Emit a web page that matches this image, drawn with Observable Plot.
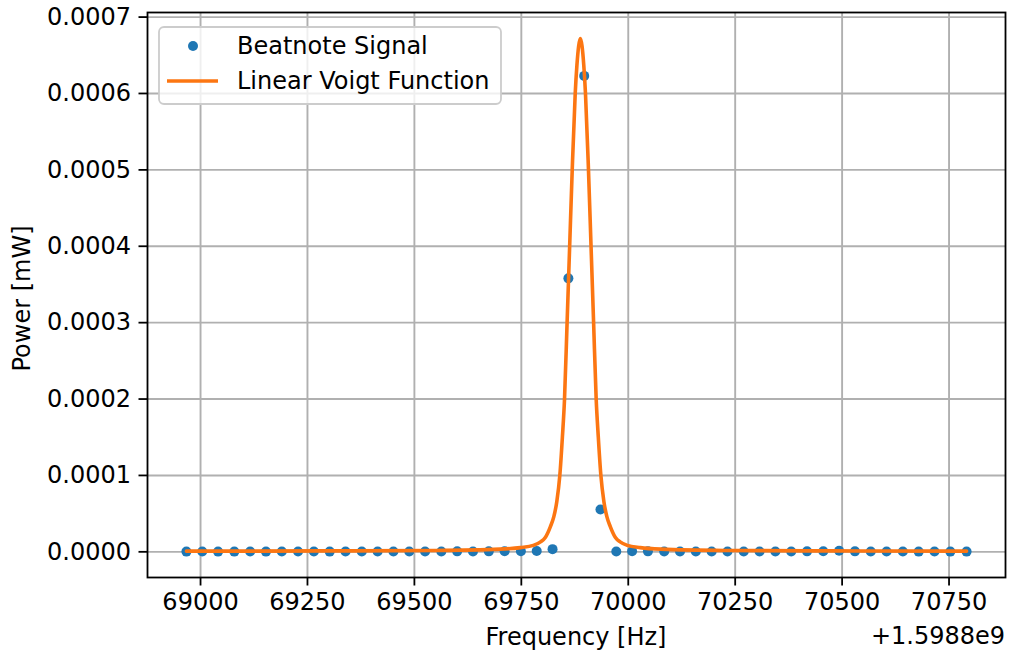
<!DOCTYPE html>
<html>
<head>
<meta charset="utf-8">
<script src="https://cdn.jsdelivr.net/npm/d3@7"></script>
<script src="https://cdn.jsdelivr.net/npm/@observablehq/plot@0.6"></script>
<style>
  html, body { margin: 0; padding: 0; background: #fff; }
  #chart svg { display: block; }
</style>
</head>
<body>
<div id="chart"></div>
<script>
// Frequency offsets in Hz above 1.5988e9
const OFFSET_LABEL = "+1.5988e9";

// Measured beatnote signal (frequency offset [Hz], power [mW])
const signalFreq = [
  68967, 69004, 69041, 69079, 69116, 69153, 69190, 69228, 69265, 69302,
  69339, 69377, 69414, 69451, 69488, 69525, 69563, 69600, 69637, 69674,
  69711, 69749, 69786, 69823, 69860, 69897, 69935, 69972, 70009, 70046,
  70084, 70121, 70158, 70195, 70232, 70270, 70307, 70344, 70381, 70418,
  70456, 70493, 70530, 70567, 70604, 70642, 70679, 70716, 70753, 70791
];
const signalPower = [
  0.0000003, 0.0000004, 0.0000003, 0.0000003, 0.0000004, 0.0000003, 0.0000004, 0.0000005, 0.0000004, 0.0000003,
  0.0000004, 0.0000005, 0.0000004, 0.0000004, 0.0000005, 0.0000004, 0.0000005, 0.0000006, 0.0000005, 0.0000006,
  0.0000007, 0.0000008, 0.0000010, 0.0000035, 0.000358, 0.000623, 0.0000555, 0.0000005, 0.0000008, 0.0000006,
  0.0000005, 0.0000004, 0.0000005, 0.0000004, 0.0000004, 0.0000005, 0.0000004, 0.0000004, 0.0000005, 0.0000006,
  0.0000008, 0.0000015, 0.0000006, 0.0000005, 0.0000004, 0.0000004, 0.0000003, 0.0000004, 0.0000003, 0.0000003
];

// Fitted linear Voigt curve
const fitFreq = [
  68967, 69300, 69550, 69700, 69748, 69778, 69795, 69806, 69818, 69826,
  69833, 69840, 69846, 69851, 69857, 69863, 69869, 69876, 69880, 69884,
  69888,
  69892, 69896, 69900, 69907, 69913, 69919, 69925, 69930, 69936, 69943,
  69950, 69958, 69970, 69981, 69998, 70028, 70076, 70226, 70476, 70791
];
const fitPower = [
  0.0000009, 0.0000012, 0.0000018, 0.0000035, 0.0000055, 0.0000085, 0.000013, 0.0000187, 0.000033, 0.000046,
  0.000066, 0.0001, 0.00015, 0.0002, 0.0003, 0.0004, 0.0005, 0.0006, 0.000637, 0.000662,
  0.000672,
  0.000662, 0.000637, 0.0006, 0.0005, 0.0004, 0.0003, 0.0002, 0.00015, 0.0001, 0.000066,
  0.000046, 0.000033, 0.0000187, 0.000013, 0.0000085, 0.0000055, 0.0000035, 0.0000018, 0.0000012, 0.0000009
];

const xTicks = [69000, 69250, 69500, 69750, 70000, 70250, 70500, 70750];
const yTicks = [0, 0.0001, 0.0002, 0.0003, 0.0004, 0.0005, 0.0006, 0.0007];

const seriesNames = ["Beatnote Signal", "Linear Voigt Function"];
const xLabel = "Frequency [Hz]";
const yLabel = "Power [mW]";

const signal = signalFreq.map((f, i) => ({f, p: signalPower[i]}));
const fit = fitFreq.map((f, i) => ({f, p: fitPower[i]}));

const W = 1011, H = 654;
const mL = 147, mR = 6, mT = 12, mB = 77;
const FONT = "DejaVu Sans, Liberation Sans, sans-serif";
const FS = 24;
const BLUE = "#1f77b4", ORANGE = "#fc7612", GRID = "#b0b0b0";

const chart = Plot.plot({
  width: W,
  height: H,
  marginLeft: mL,
  marginRight: mR,
  marginTop: mT,
  marginBottom: mB,
  style: {fontFamily: FONT, fontSize: FS + "px", color: "#000", background: "#fff"},
  x: {domain: [68876, 70882]},
  y: {domain: [-0.0000336, 0.000706]},
  marks: [
    Plot.gridX(xTicks, {stroke: GRID, strokeOpacity: 1, strokeWidth: 1.9}),
    Plot.gridY(yTicks, {stroke: GRID, strokeOpacity: 1, strokeWidth: 1.9}),
    Plot.dot(signal, {x: "f", y: "p", r: 5, fill: BLUE, stroke: "none"}),
    Plot.line(fit, {x: "f", y: "p", stroke: ORANGE, strokeWidth: 3.6, curve: "monotone-x"}),
    Plot.axisX(xTicks, {tickFormat: d3.format("d"), tickSize: 8.5, tickPadding: 7, strokeWidth: 1.8, label: null, fontSize: FS}),
    Plot.axisY(yTicks, {tickFormat: d3.format(".4f"), tickSize: 8.5, tickPadding: 8, strokeWidth: 1.8, label: null, fontSize: FS}),
    Plot.frame({stroke: "#000", strokeWidth: 1.8})
  ]
});

document.getElementById("chart").appendChild(chart);

const svg = d3.select(chart);

function addText(x, y, str, anchor, transform) {
  const t = svg.append("text")
    .attr("text-anchor", anchor).attr("dominant-baseline", "central")
    .attr("font-family", FONT).attr("font-size", FS).attr("fill", "#000")
    .style("text-anchor", anchor)
    .text(str);
  if (transform) t.attr("transform", transform);
  else t.attr("x", x).attr("y", y);
  return t;
}

// axis titles
addText((mL + W - mR) / 2, 637, xLabel, "middle");
addText(W - mR, 636, OFFSET_LABEL, "end");
addText(0, 0, yLabel, "middle", `translate(22, ${(mT + H - mB) / 2 + 4}) rotate(-90)`);

// legend
const lg = svg.append("g");
lg.append("rect")
  .attr("x", 159).attr("y", 27).attr("width", 342).attr("height", 77).attr("rx", 5)
  .attr("fill", "#fff").attr("fill-opacity", 0.8)
  .attr("stroke", "#cccccc").attr("stroke-width", 1.8);
lg.append("circle").attr("cx", 193).attr("cy", 46).attr("r", 5).attr("fill", BLUE);
lg.append("line").attr("x1", 167).attr("x2", 218).attr("y1", 81).attr("y2", 81)
  .attr("stroke", ORANGE).attr("stroke-width", 3.6);
seriesNames.forEach((name, i) => {
  addText(237, i === 0 ? 46 : 81, name, "start");
});
</script>
</body>
</html>
